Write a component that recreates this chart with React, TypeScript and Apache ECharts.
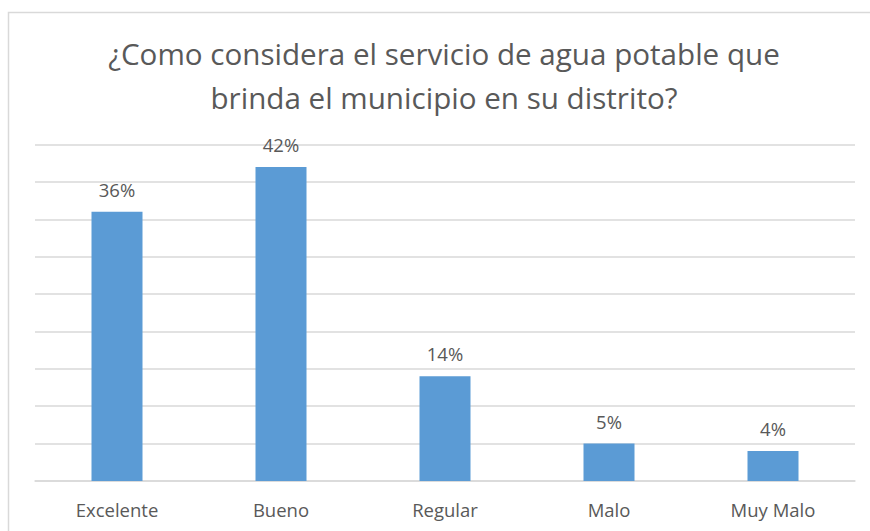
import React, { useEffect, useRef } from "react";
import * as echarts from "echarts";

const categories = ["Excelente", "Bueno", "Regular", "Malo", "Muy Malo"];
const values = [36, 42, 14, 5, 4];
const titleLines = ["¿Como considera el servicio de agua potable que", "brinda el municipio en su distrito?"];

export default function App() {
  const ref = useRef<HTMLDivElement>(null);
  useEffect(() => {
    if (!ref.current) return;
    const chart = echarts.init(ref.current, null, { renderer: "svg" });
    chart.setOption({
      animation: false,
      backgroundColor: "#ffffff",
      graphic: [
        {
          type: "rect",
          shape: { x: 8.5, y: 12.5, width: 880, height: 600 },
          style: { fill: "none", stroke: "#D9D9D9", lineWidth: 1.5 },
          z: 0,
        },
        {
          type: "text",
          x: 444,
          y: 53,
          style: {
            text: titleLines[0],
            font: "29.6px 'Open Sans'",
            fill: "#595959",
            align: "center",
            verticalAlign: "middle",
          },
        },
        {
          type: "text",
          x: 444,
          y: 97,
          style: {
            text: titleLines[1],
            font: "29.6px 'Open Sans'",
            fill: "#595959",
            align: "center",
            verticalAlign: "middle",
          },
        },
      ],
      grid: { left: 35, right: 15, top: 144.5, bottom: 50 },
      xAxis: {
        type: "category",
        data: categories,
        axisLine: { lineStyle: { color: "#D9D9D9", width: 1.5 } },
        axisTick: { show: false },
        axisLabel: {
          color: "#595959",
          fontSize: 18.5,
          fontFamily: "'Open Sans'",
          margin: 19,
        },
      },
      yAxis: {
        type: "value",
        min: 0,
        max: 45,
        interval: 5,
        axisLabel: { show: false },
        axisLine: { show: false },
        axisTick: { show: false },
        splitLine: { lineStyle: { color: "#D9D9D9", width: 1.5 } },
      },
      series: [
        {
          type: "bar",
          data: values,
          barWidth: 51,
          itemStyle: { color: "#5B9BD5" },
          label: {
            show: true,
            position: "top",
            distance: 13,
            formatter: "{c}%",
            color: "#595959",
            fontSize: 18.5,
            fontFamily: "'Open Sans'",
          },
        },
      ],
    });
    return () => chart.dispose();
  }, []);
  return (
    <div
      ref={ref}
      style={{ position: "absolute", left: 0, top: 0, width: 870, height: 531 }}
    />
  );
}
